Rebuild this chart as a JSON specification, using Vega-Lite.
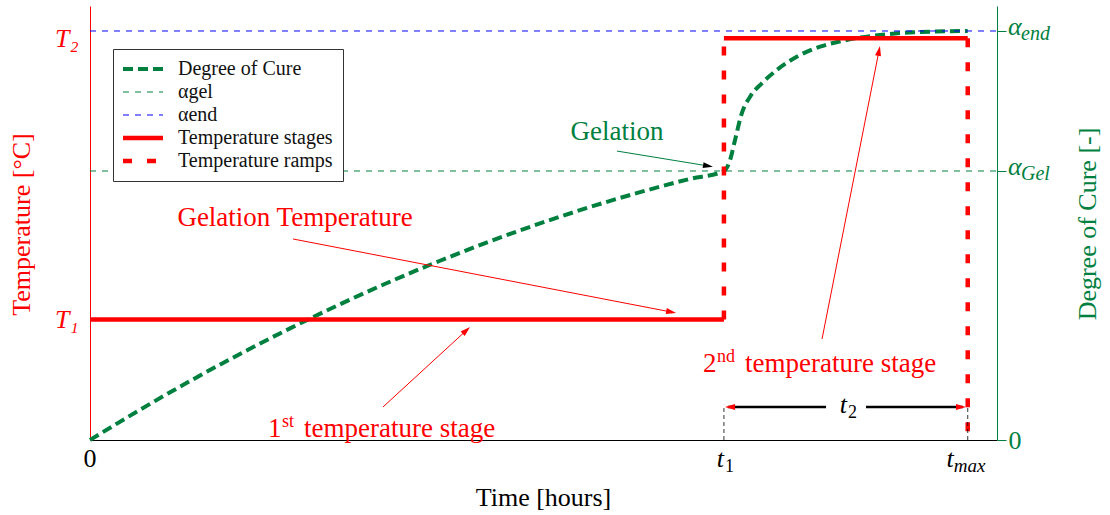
{
  "$schema": "https://vega.github.io/schema/vega-lite/v6.json",
  "width": 907,
  "height": 434,
  "autosize": {"type": "none"},
  "padding": {"left": 90, "top": 6, "right": 113, "bottom": 75},
  "config": {
    "font": "Liberation Serif",
    "view": {"stroke": null},
    "axis": {"grid": false, "labelFont": "Liberation Serif", "titleFont": "Liberation Serif"},
    "text": {"font": "Liberation Serif"},
    "legend": {"orient": "none", "legendX": 23, "legendY": 43}
  },
  "datasets": {
    "cure": [
      {"series": "Degree of Cure", "t": 0, "C": 0},
      {"series": "Degree of Cure", "t": 0.513, "C": 0.0739},
      {"series": "Degree of Cure", "t": 1.025, "C": 0.1441},
      {"series": "Degree of Cure", "t": 1.538, "C": 0.2104},
      {"series": "Degree of Cure", "t": 2.051, "C": 0.273},
      {"series": "Degree of Cure", "t": 2.564, "C": 0.3319},
      {"series": "Degree of Cure", "t": 3.076, "C": 0.387},
      {"series": "Degree of Cure", "t": 3.589, "C": 0.4383},
      {"series": "Degree of Cure", "t": 4.102, "C": 0.4858},
      {"series": "Degree of Cure", "t": 4.614, "C": 0.5296},
      {"series": "Degree of Cure", "t": 5.127, "C": 0.5696},
      {"series": "Degree of Cure", "t": 5.64, "C": 0.6059},
      {"series": "Degree of Cure", "t": 6.152, "C": 0.6384},
      {"series": "Degree of Cure", "t": 6.5, "C": 0.6577},
      {"series": "Degree of Cure", "t": 6.563, "C": 0.6846},
      {"series": "Degree of Cure", "t": 6.614, "C": 0.7335},
      {"series": "Degree of Cure", "t": 6.683, "C": 0.7987},
      {"series": "Degree of Cure", "t": 6.768, "C": 0.8393},
      {"series": "Degree of Cure", "t": 6.888, "C": 0.8721},
      {"series": "Degree of Cure", "t": 7.042, "C": 0.9046},
      {"series": "Degree of Cure", "t": 7.247, "C": 0.9371},
      {"series": "Degree of Cure", "t": 7.486, "C": 0.9616},
      {"series": "Degree of Cure", "t": 7.759, "C": 0.978},
      {"series": "Degree of Cure", "t": 8.101, "C": 0.9902},
      {"series": "Degree of Cure", "t": 8.443, "C": 0.9968},
      {"series": "Degree of Cure", "t": 9.0, "C": 1.0},
      {"series": "αgel", "t": 0, "C": 0.6577},
      {"series": "αgel", "t": 9.3, "C": 0.6577},
      {"series": "αend", "t": 0, "C": 1.0},
      {"series": "αend", "t": 9.3, "C": 1.0}
    ],
    "temp": [
      {"series": "Temperature stages", "seg": "a", "t": 0, "T": 60},
      {"series": "Temperature stages", "seg": "a", "t": 6.5, "T": 60},
      {"series": "Temperature stages", "seg": "b", "t": 6.5, "T": 200},
      {"series": "Temperature stages", "seg": "b", "t": 9, "T": 200},
      {"series": "Temperature ramps", "seg": "c", "t": 6.5, "T": 60},
      {"series": "Temperature ramps", "seg": "c", "t": 6.5, "T": 200},
      {"series": "Temperature ramps", "seg": "d", "t": 9, "T": 200},
      {"series": "Temperature ramps", "seg": "d", "t": 9, "T": 0}
    ]
  },
  "encoding": {
    "x": {
      "field": "t", "type": "quantitative",
      "scale": {"domain": [0, 9.3], "nice": false, "zero": false},
      "axis": {
        "title": "Time [hours]", "titleFontSize": 26, "titleFontWeight": "normal", "titleColor": "#000000",
        "titleX": 453, "titleY": 65, "titleBaseline": "alphabetic", "titleAlign": "center",
        "labels": false, "ticks": false, "grid": false, "domainColor": "#000000", "domainWidth": 1
      }
    }
  },
  "layer": [
    {
      "encoding": {
        "y": {
          "field": "C", "type": "quantitative",
          "scale": {"domain": [0, 1.0611], "nice": false, "zero": false},
          "axis": {
            "orient": "right", "grid": false,
            "domainColor": "#00803f", "tickColor": "#00803f", "tickSize": 9,
            "values": [0, 0.6577, 1],
            "labelExpr": "datum.value == 0 ? '0' : ''",
            "labelColor": "#00803f", "labelFontSize": 26, "labelPadding": 2, "labelBaseline": "middle",
            "title": "Degree of Cure [-]", "titleColor": "#00803f", "titleFontSize": 26, "titleFontWeight": "normal",
            "titleAngle": -90, "titleX": 98, "titleY": 217.5, "titleBaseline": "alphabetic", "titleAlign": "center"
          }
        }
      },
      "layer": [
        {
          "data": {"name": "cure"},
          "mark": {"type": "line", "interpolate": "monotone", "strokeCap": "butt"},
          "encoding": {
            "color": {
              "field": "series", "type": "nominal", "title": null,
              "scale": {"domain": ["Degree of Cure", "αgel", "αend", "Temperature stages", "Temperature ramps"], "range": ["#00803f", "#00803f", "#0000ff", "#ff0000", "#ff0000"]},
              "legend": {"orient": "none", "legendX": 23, "legendY": 43, "padding": 10, "strokeColor": "#333333", "fillColor": "#ffffff", "symbolType": "M-2,0H6", "symbolSize": 100, "labelFontSize": 20, "labelColor": "#111111", "labelOffset": 35, "rowPadding": 3, "labelBaseline": "middle", "labelLimit": 0}
            },
            "strokeDash": {
              "field": "series", "type": "nominal", "title": null,
              "scale": {"domain": ["Degree of Cure", "αgel", "αend", "Temperature stages", "Temperature ramps"], "range": [[10, 5], [6, 6], [6, 6], [1, 0], [9, 15]]}
            },
            "strokeWidth": {
              "field": "series", "type": "nominal", "title": null,
              "scale": {"type": "ordinal", "domain": ["Degree of Cure", "αgel", "αend", "Temperature stages", "Temperature ramps"], "range": [4, 1, 1, 4.5, 4.5]}
            }
          }
        },
        {
          "data": {"values": [{"t": 9.3, "C": 1.0}, {"t": 9.3, "C": 0.6577}]},
          "mark": {"type": "text", "text": "α", "align": "left", "baseline": "alphabetic", "dx": 11, "dy": 4, "fontSize": 26, "fontStyle": "italic", "color": "#00803f"},
          "encoding": {}
        },
        {
          "data": {"values": [{"t": 9.3, "C": 1.0, "label": "end"}, {"t": 9.3, "C": 0.6577, "label": "Gel"}]},
          "mark": {"type": "text", "align": "left", "baseline": "alphabetic", "dx": 24, "dy": 9, "fontSize": 20, "fontStyle": "italic", "color": "#00803f"},
          "encoding": {"text": {"field": "label"}}
        }
      ]
    },
    {
      "encoding": {
        "y": {
          "field": "T", "type": "quantitative",
          "scale": {"domain": [0, 216], "nice": false, "zero": false},
          "axis": {
            "orient": "left", "grid": false,
            "domainColor": "#ff0000", "ticks": false,
            "values": [60, 200],
            "labelExpr": "datum.value == 60 ? 'T₁' : 'T₂'",
            "labelColor": "#ff0000", "labelFontStyle": "italic", "labelFontSize": 26, "labelPadding": 12,
            "title": "Temperature [°C]", "titleColor": "#ff0000", "titleFontSize": 26, "titleFontWeight": "normal",
            "titleAngle": -90, "titleX": -61, "titleY": 218, "titleBaseline": "alphabetic", "titleAlign": "center"
          }
        }
      },
      "layer": [
        {
          "data": {"name": "temp"},
          "mark": {"type": "line", "strokeCap": "butt"},
          "encoding": {
            "detail": {"field": "seg"},
            "color": {
              "field": "series", "type": "nominal", "title": null,
              "scale": {"domain": ["Degree of Cure", "αgel", "αend", "Temperature stages", "Temperature ramps"], "range": ["#00803f", "#00803f", "#0000ff", "#ff0000", "#ff0000"]}
            },
            "strokeDash": {
              "field": "series", "type": "nominal", "title": null,
              "scale": {"domain": ["Degree of Cure", "αgel", "αend", "Temperature stages", "Temperature ramps"], "range": [[10, 5], [6, 6], [6, 6], [1, 0], [9, 15]]}
            },
            "strokeWidth": {
              "field": "series", "type": "nominal", "title": null,
              "scale": {"type": "ordinal", "domain": ["Degree of Cure", "αgel", "αend", "Temperature stages", "Temperature ramps"], "range": [4, 1, 1, 4.5, 4.5]}
            }
          }
        },
        {
          "data": {"values": [
            {"t": 2.082, "T": 100.04, "t2": 5.959, "T2": 63.71},
            {"t": 3.004, "T": 16.42, "t2": 3.859, "T2": 54.55},
            {"t": 7.506, "T": 50.27, "t2": 8.09, "T2": 193.66}
          ]},
          "mark": {"type": "rule", "color": "#ff0000", "strokeWidth": 1},
          "encoding": {"x2": {"field": "t2"}, "y2": {"field": "T2"}}
        },
        {
          "data": {"values": [{"t": 5.404, "T": 143.8, "t2": 6.337, "T2": 136.4}]},
          "mark": {"type": "rule", "color": "#00803f", "strokeWidth": 1},
          "encoding": {"x2": {"field": "t2"}, "y2": {"field": "T2"}}
        },
        {
          "data": {"values": [{"t": 6.5, "T": 0, "t2": 6.5, "T2": 17.5}, {"t": 9.0, "T": 0, "t2": 9.0, "T2": 17.5}]},
          "mark": {"type": "rule", "color": "#000000", "strokeWidth": 0.8, "strokeDash": [4, 3]},
          "encoding": {"x2": {"field": "t2"}, "y2": {"field": "T2"}}
        },
        {
          "data": {"values": [{"t": 6.54, "T": 16.42, "t2": 7.547, "T2": 16.42}, {"t": 7.957, "T": 16.42, "t2": 8.95, "T2": 16.42}]},
          "mark": {"type": "rule", "color": "#000000", "strokeWidth": 2.5},
          "encoding": {"x2": {"field": "t2"}, "y2": {"field": "T2"}}
        },
        {
          "data": {"values": [{"t": 5.959, "T": 63.71}]},
          "mark": {"type": "point", "shape": "M1,0L-1,-0.6L-1,0.6Z", "filled": true, "size": 100, "opacity": 1, "angle": 10.94, "color": "#ff0000"},
          "encoding": {}
        },
        {
          "data": {"values": [{"t": 3.859, "T": 54.55}]},
          "mark": {"type": "point", "shape": "M1,0L-1,-0.6L-1,0.6Z", "filled": true, "size": 100, "opacity": 1, "angle": -42.6, "color": "#ff0000"},
          "encoding": {}
        },
        {
          "data": {"values": [{"t": 8.09, "T": 193.66}]},
          "mark": {"type": "point", "shape": "M1,0L-1,-0.6L-1,0.6Z", "filled": true, "size": 100, "opacity": 1, "angle": -78.8, "color": "#ff0000"},
          "encoding": {}
        },
        {
          "data": {"values": [{"t": 6.337, "T": 136.4}]},
          "mark": {"type": "point", "shape": "M1,0L-1,-0.6L-1,0.6Z", "filled": true, "size": 100, "opacity": 1, "angle": 9.46, "color": "#000000"},
          "encoding": {}
        },
        {
          "data": {"values": [{"t": 6.563, "T": 16.42}]},
          "mark": {"type": "point", "shape": "M1,0L-1,-0.6L-1,0.6Z", "filled": true, "size": 100, "opacity": 1, "angle": 180, "color": "#ff0000"},
          "encoding": {}
        },
        {
          "data": {"values": [{"t": 8.931, "T": 16.42}]},
          "mark": {"type": "point", "shape": "M1,0L-1,-0.6L-1,0.6Z", "filled": true, "size": 100, "opacity": 1, "angle": 0, "color": "#ff0000"},
          "encoding": {}
        },
        {
          "data": {"values": [{"t": 2.102, "T": 106.66, "label": "Gelation Temperature"}]},
          "mark": {"type": "text", "align": "center", "baseline": "alphabetic", "fontSize": 27, "color": "#ff0000"},
          "encoding": {"text": {"field": "label"}}
        },
        {
          "data": {"values": [{"t": 5.404, "T": 149.3, "label": "Gelation"}]},
          "mark": {"type": "text", "align": "center", "baseline": "alphabetic", "fontSize": 27, "color": "#00803f"},
          "encoding": {"text": {"field": "label"}}
        },
        {
          "data": {"values": [{"t": 1.825, "T": 1.64, "label": "1"}, {"t": 6.286, "T": 33.99, "label": "2"}]},
          "mark": {"type": "text", "align": "left", "baseline": "alphabetic", "fontSize": 27, "color": "#ff0000"},
          "encoding": {"text": {"field": "label"}}
        },
        {
          "data": {"values": [{"t": 1.825, "T": 1.64, "label": "st"}, {"t": 6.286, "T": 33.99, "label": "nd"}]},
          "mark": {"type": "text", "align": "left", "baseline": "alphabetic", "fontSize": 18, "dx": 14, "dy": -10, "color": "#ff0000"},
          "encoding": {"text": {"field": "label"}}
        },
        {
          "data": {"values": [{"t": 1.825, "T": 1.64, "label": "temperature stage"}]},
          "mark": {"type": "text", "align": "left", "baseline": "alphabetic", "fontSize": 27, "dx": 36, "color": "#ff0000"},
          "encoding": {"text": {"field": "label"}}
        },
        {
          "data": {"values": [{"t": 6.286, "T": 33.99, "label": "temperature stage"}]},
          "mark": {"type": "text", "align": "left", "baseline": "alphabetic", "fontSize": 27, "dx": 42, "color": "#ff0000"},
          "encoding": {"text": {"field": "label"}}
        },
        {
          "data": {"values": [{"t": 7.763, "T": 13.44, "label": "t"}]},
          "mark": {"type": "text", "align": "right", "baseline": "alphabetic", "fontSize": 26, "fontStyle": "italic", "color": "#000000"},
          "encoding": {"text": {"field": "label"}}
        },
        {
          "data": {"values": [{"t": 7.763, "T": 13.44, "label": "2"}]},
          "mark": {"type": "text", "align": "left", "baseline": "alphabetic", "fontSize": 18, "dx": 1, "dy": 5, "color": "#000000"},
          "encoding": {"text": {"field": "label"}}
        },
        {
          "data": {"values": [{"t": 0, "T": 0, "label": "0"}]},
          "mark": {"type": "text", "align": "center", "baseline": "alphabetic", "fontSize": 26, "dy": 27, "color": "#000000"},
          "encoding": {"text": {"field": "label"}}
        },
        {
          "data": {"values": [{"t": 6.5, "T": 0, "label": "t"}]},
          "mark": {"type": "text", "align": "right", "baseline": "alphabetic", "fontSize": 26, "fontStyle": "italic", "dy": 27, "color": "#000000"},
          "encoding": {"text": {"field": "label"}}
        },
        {
          "data": {"values": [{"t": 6.5, "T": 0, "label": "1"}]},
          "mark": {"type": "text", "align": "left", "baseline": "alphabetic", "fontSize": 18, "dx": 1, "dy": 32, "color": "#000000"},
          "encoding": {"text": {"field": "label"}}
        },
        {
          "data": {"values": [{"t": 9.0, "T": 0, "label": "t"}]},
          "mark": {"type": "text", "align": "right", "baseline": "alphabetic", "fontSize": 26, "fontStyle": "italic", "dx": -14, "dy": 27, "color": "#000000"},
          "encoding": {"text": {"field": "label"}}
        },
        {
          "data": {"values": [{"t": 9.0, "T": 0, "label": "max"}]},
          "mark": {"type": "text", "align": "left", "baseline": "alphabetic", "fontSize": 19, "fontStyle": "italic", "dx": -14, "dy": 32, "color": "#000000"},
          "encoding": {"text": {"field": "label"}}
        }
      ]
    }
  ],
  "resolve": {"scale": {"y": "independent"}}
}
